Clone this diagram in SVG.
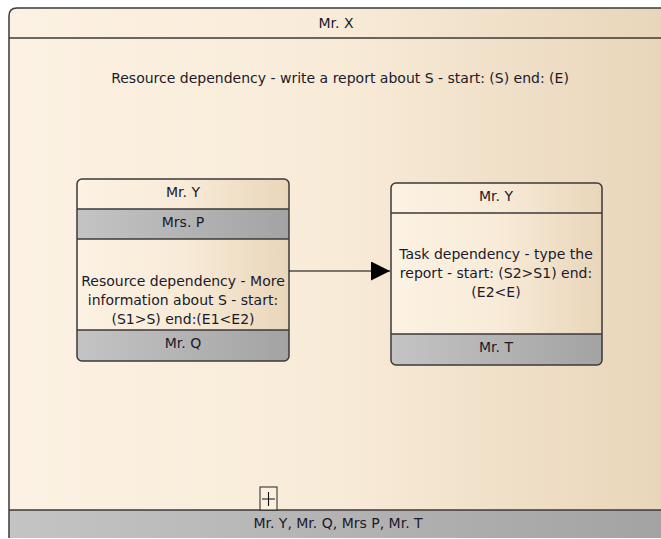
<svg xmlns="http://www.w3.org/2000/svg" width="661" height="539" viewBox="0 0 661 539">
<style>
text{font-family:"DejaVu Sans","Liberation Sans",sans-serif;font-size:14px;fill:#1a1a2a;text-anchor:middle}
.ln{stroke:#3a3a3a;stroke-width:1.5;fill:none}
.conn{stroke:#000;stroke-width:1.2;fill:none}
</style>
<defs>
<linearGradient id="cream" x1="0" y1="0" x2="1" y2="0">
<stop offset="0" stop-color="#fcf2e3"/>
<stop offset="0.5" stop-color="#f8ebd8"/>
<stop offset="1" stop-color="#e9d6ba"/>
</linearGradient>
<linearGradient id="gray" x1="0" y1="0" x2="1" y2="0">
<stop offset="0" stop-color="#c4c4c4"/>
<stop offset="1" stop-color="#a3a3a3"/>
</linearGradient>
<marker id="arr" viewBox="0 0 10 10" refX="10" refY="5" markerWidth="25" markerHeight="19" markerUnits="userSpaceOnUse" orient="auto">
<path d="M0,0 L10,5 L0,10 z" fill="#000"/>
</marker>
</defs>
<rect width="661" height="539" fill="#fff"/>
<g id="mrx">
<path d="M9,538 V16 Q9,8 17,8 H662 V538 Z" fill="url(#cream)"/>
<rect x="9" y="510" width="653" height="28" fill="url(#gray)"/>
<path class="ln" d="M9,538 V16 Q9,8 17,8 H662"/>
<line class="ln" x1="9" y1="38" x2="662" y2="38"/>
<line class="ln" x1="9" y1="510" x2="662" y2="510"/>
<text x="336" y="28">Mr. X</text>
<text x="340" y="83">Resource dependency - write a report about S - start: (S) end: (E)</text>
<rect x="260" y="487" width="17" height="23" fill="#fbf0e0" stroke="#222" stroke-width="1"/>
<path d="M262,499 H275 M268.5,492 V506" stroke="#111" stroke-width="1.1"/>
<text x="338" y="528">Mr. Y, Mr. Q, Mrs P, Mr. T</text>
</g>
<g id="left">
<rect x="77" y="179" width="212" height="182" rx="5" fill="url(#cream)"/>
<rect x="77" y="209" width="212" height="30" fill="url(#gray)"/>
<path d="M77,330 H289 V356 Q289,361 284,361 H82 Q77,361 77,356 Z" fill="url(#gray)"/>
<rect class="ln" x="77" y="179" width="212" height="182" rx="5"/>
<line class="ln" x1="77" y1="209" x2="289" y2="209"/>
<line class="ln" x1="77" y1="239" x2="289" y2="239"/>
<line class="ln" x1="77" y1="330" x2="289" y2="330"/>
<text x="183" y="197">Mr. Y</text>
<text x="183" y="227">Mrs. P</text>
<text x="183" y="286">Resource dependency - More</text>
<text x="183" y="305">information about S - start:</text>
<text x="183" y="324">(S1&gt;S) end:(E1&lt;E2)</text>
<text x="183" y="348">Mr. Q</text>
</g>
<g id="right">
<rect x="391" y="183" width="211" height="182" rx="5" fill="url(#cream)"/>
<path d="M391,334 H602 V360 Q602,365 597,365 H396 Q391,365 391,360 Z" fill="url(#gray)"/>
<rect class="ln" x="391" y="183" width="211" height="182" rx="5"/>
<line class="ln" x1="391" y1="213" x2="602" y2="213"/>
<line class="ln" x1="391" y1="334" x2="602" y2="334"/>
<text x="496" y="201">Mr. Y</text>
<text x="496" y="259">Task dependency - type the</text>
<text x="496" y="278">report - start: (S2&gt;S1) end:</text>
<text x="496" y="297">(E2&lt;E)</text>
<text x="496" y="352">Mr. T</text>
</g>
<g id="connectors">
<line class="conn" x1="289" y1="271" x2="390" y2="271" marker-end="url(#arr)"/>
</g>
</svg>
